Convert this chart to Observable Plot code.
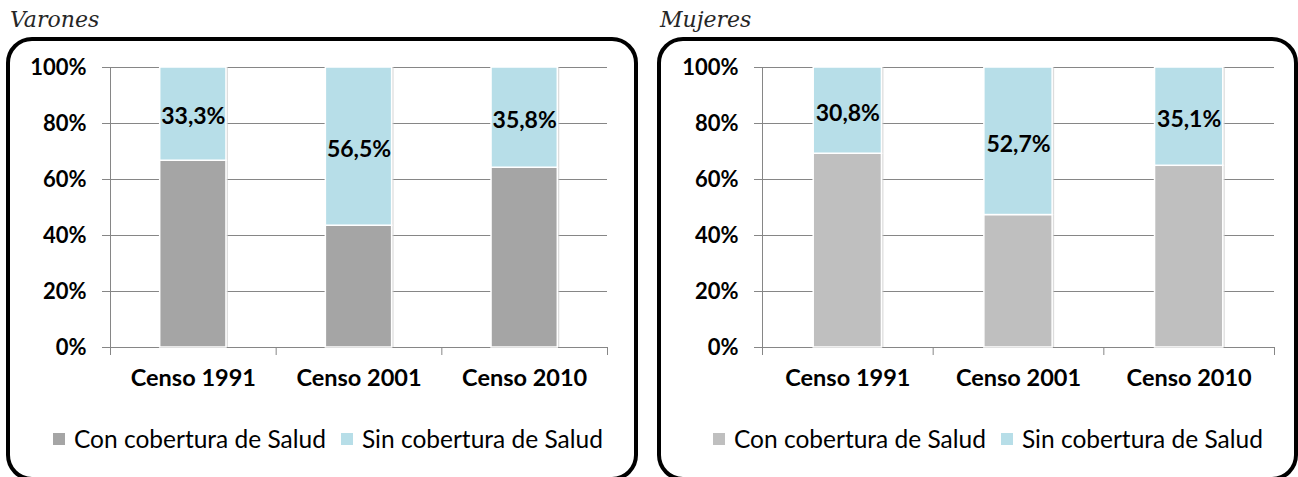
<!DOCTYPE html>
<html>
<head>
<meta charset="utf-8">
<script src="https://cdn.jsdelivr.net/npm/d3@7"></script>
<script src="https://cdn.jsdelivr.net/npm/@observablehq/plot@0.6"></script>
<style>
  html, body { margin: 0; padding: 0; background: #fff; }
  body { width: 1298px; height: 477px; position: relative; overflow: hidden; font-family: Lato, "Open Sans", sans-serif; }
  .title { position: absolute; top: 7px; font-family: "DejaVu Serif", serif; font-style: italic; font-size: 22px; color: #262626; }
  .panel { position: absolute; top: 37px; height: 444px; border: 4px solid #000; border-radius: 26px; box-sizing: border-box; }
  .chart { position: absolute; top: 40px; }
  .chart [aria-label$="tick label"] text, .chart text.lbl { font-weight: 700; }
  .legend { position: absolute; top: 424px; display: flex; align-items: center; font-size: 24.5px; color: #000; white-space: nowrap; }
  .legend .sw { width: 12px; height: 12px; display: inline-block; margin-right: 9px; }
  .legend .item { display: flex; align-items: center; margin-right: 15px; }
</style>
</head>
<body>
<div class="title" style="left:10px">Varones</div>
<div class="title" style="left:660px">Mujeres</div>
<div class="panel" style="left:6px; width:632px"></div>
<div class="panel" style="left:657px; width:641px"></div>
<div class="chart" id="c1" style="left:10px"></div>
<div class="chart" id="c2" style="left:662px"></div>
<div class="legend" id="l1" style="left:53px"></div>
<div class="legend" id="l2" style="left:713px"></div>
<script>
const categories = ["Censo 1991", "Censo 2001", "Censo 2010"];
const seriesNames = ["Con cobertura de Salud", "Sin cobertura de Salud"];
const varonesCon = [66.7, 43.5, 64.2];
const varonesSin = [33.3, 56.5, 35.8];
const mujeresCon = [69.2, 47.3, 64.9];
const mujeresSin = [30.8, 52.7, 35.1];
const yTicks = [0, 20, 40, 60, 80, 100];
const varonesColors = ["#A5A5A5", "#B7DEE8"];
const mujeresColors = ["#BFBFBF", "#B7DEE8"];

function buildRows(con, sin) {
  const rows = [];
  categories.forEach((c, i) => {
    rows.push({i, cat: c, series: seriesNames[0], y1: 0, y2: con[i], value: con[i]});
    rows.push({i, cat: c, series: seriesNames[1], y1: con[i], y2: con[i] + sin[i], value: sin[i]});
  });
  return rows;
}

function panel(con, sin, colors, width, marginRight) {
  const rows = buildRows(con, sin);
  const grid = "#868686";
  return Plot.plot({
    width, height: 360,
    marginLeft: 100, marginRight, marginTop: 27, marginBottom: 53,
    x: {domain: [0, categories.length], label: null},
    y: {domain: [0, 100], label: null},
    color: {domain: seriesNames, range: colors},
    style: {fontFamily: "Lato, sans-serif", fontSize: "22px", color: "#000", background: "transparent", overflow: "visible"},
    marks: [
      Plot.gridY(yTicks, {stroke: grid, strokeOpacity: 1}),
      Plot.axisY(yTicks, {tickSize: 8, tickPadding: 16, stroke: grid, tickFormat: d => d + "%", fontSize: 22, fontWeight: "bold", label: null}),
      Plot.ruleX([0], {stroke: grid}),
      Plot.ruleY([0], {stroke: grid}),
      Plot.axisX(d3.range(categories.length + 1), {tickSize: 8, stroke: grid, tickFormat: () => "", label: null}),
      Plot.axisX(categories.map((c, i) => i + 0.5), {tickSize: 0, tickPadding: 22, fontSize: 23.5, fontWeight: "bold", tickFormat: d => categories[Math.floor(d)], label: null}),
      Plot.rectY(rows, {x1: d => d.i + 0.3, x2: d => d.i + 0.7, y1: "y1", y2: "y2", fill: "#cfcfcf", dx: 2, fillOpacity: 0.7}),
      Plot.rectY(rows, {x1: d => d.i + 0.3, x2: d => d.i + 0.7, y1: "y1", y2: "y2", fill: "series", stroke: "#fff", strokeWidth: 1.5}),
      Plot.text(rows.filter(d => d.series === seriesNames[1]), {x: d => d.i + 0.5, y: d => (d.y1 + d.y2) / 2, text: d => d.value.toFixed(1).replace(".", ",") + "%", fontSize: 23, fontWeight: "bold", fill: "#000", dy: 3, className: "lbl"})
    ]
  });
}

document.getElementById("c1").append(panel(varonesCon, varonesSin, varonesColors, 622, 25));
document.getElementById("c2").append(panel(mujeresCon, mujeresSin, mujeresColors, 622, 10));

function legend(id, colors) {
  const el = document.getElementById(id);
  seriesNames.forEach((s, k) => {
    const item = document.createElement("span");
    item.className = "item";
    const sw = document.createElement("span");
    sw.className = "sw";
    sw.style.background = colors[k];
    item.append(sw, document.createTextNode(s));
    el.append(item);
  });
}
legend("l1", varonesColors);
legend("l2", mujeresColors);
</script>
</body>
</html>
